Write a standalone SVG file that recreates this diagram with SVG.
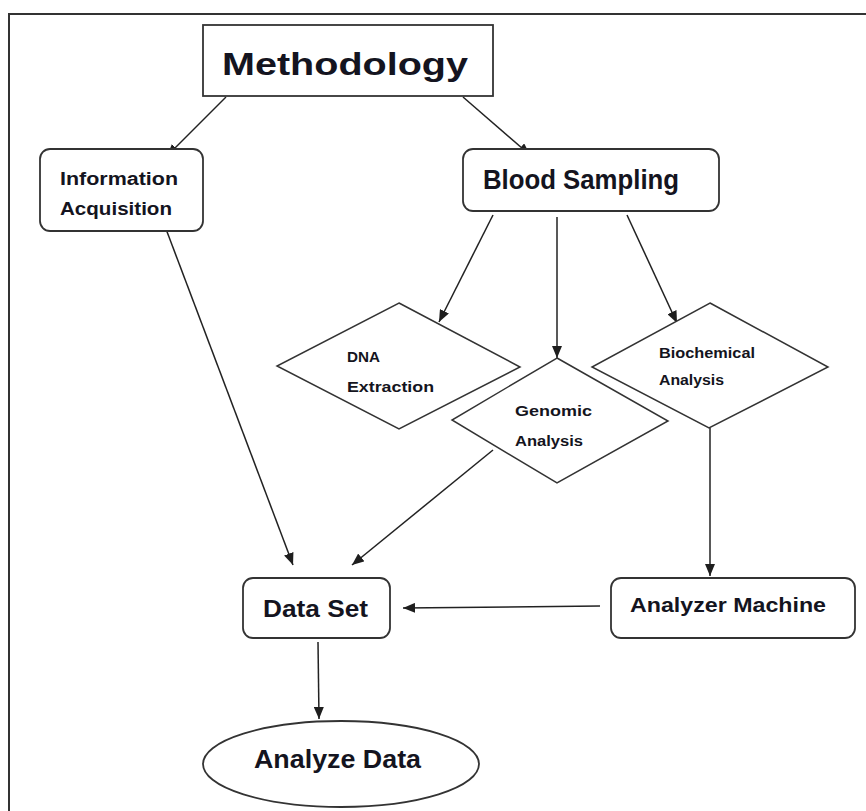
<svg xmlns="http://www.w3.org/2000/svg" width="866" height="811" viewBox="0 0 866 811">
<defs>
<marker id="ah" viewBox="0 0 12 10" refX="12" refY="5" markerWidth="12" markerHeight="10" markerUnits="userSpaceOnUse" orient="auto">
<path d="M0,0 L12,5 L0,10 z" fill="#1e1e1e"/>
</marker>
</defs>
<style>
.frame{fill:none;stroke:#333;stroke-width:2}
.box{fill:#fff;stroke:#333;stroke-width:1.8}
.dia{fill:#fff;stroke:#333;stroke-width:1.5}
.conn line{stroke:#222;stroke-width:1.5;marker-end:url(#ah)}
text{font-family:"Liberation Sans",Arial,sans-serif;font-weight:bold;fill:#141420}
</style>
<rect width="866" height="811" fill="#fff"/>
<path class="frame" d="M9,811 V14 H866"/>
<g class="conn" id="connectors">
<line x1="226" y1="97" x2="167" y2="156"/>
<line x1="463" y1="97" x2="530" y2="155"/>
<line x1="166" y1="229" x2="293" y2="565"/>
<line x1="493" y1="215" x2="439" y2="322"/>
<line x1="557" y1="217" x2="557" y2="358"/>
<line x1="627" y1="215" x2="677" y2="323"/>
<line x1="493" y1="450" x2="352" y2="565"/>
<line x1="710" y1="428" x2="710" y2="576"/>
<line x1="600" y1="606" x2="403" y2="608"/>
<line x1="318" y1="642" x2="319" y2="719"/>
</g>
<g id="methodology">
<rect class="box" x="203" y="25" width="290" height="71"/>
<text x="222" y="75" font-size="31" textLength="246" lengthAdjust="spacingAndGlyphs">Methodology</text>
</g>
<g id="info">
<rect class="box" x="40" y="149" width="163" height="82" rx="10"/>
<text x="60" y="185" font-size="18" textLength="118" lengthAdjust="spacingAndGlyphs">Information</text>
<text x="60" y="215" font-size="18" textLength="112" lengthAdjust="spacingAndGlyphs">Acquisition</text>
</g>
<g id="blood">
<rect class="box" x="463" y="149" width="256" height="62" rx="10"/>
<text x="483" y="189" font-size="28" textLength="196" lengthAdjust="spacingAndGlyphs">Blood Sampling</text>
</g>
<g id="dna">
<polygon class="dia" points="399,303 520,367 399,429 277,366"/>
<text x="347" y="362" font-size="14" textLength="33" lengthAdjust="spacingAndGlyphs">DNA</text>
<text x="347" y="392" font-size="14" textLength="87" lengthAdjust="spacingAndGlyphs">Extraction</text>
</g>
<g id="genomic">
<polygon class="dia" points="557,358 668,421 557,483 452,420"/>
<text x="515" y="416" font-size="14" textLength="77" lengthAdjust="spacingAndGlyphs">Genomic</text>
<text x="515" y="446" font-size="14" textLength="68" lengthAdjust="spacingAndGlyphs">Analysis</text>
</g>
<g id="biochem">
<polygon class="dia" points="710,303 828,367 709,428 592,367"/>
<text x="659" y="358" font-size="14" textLength="96" lengthAdjust="spacingAndGlyphs">Biochemical</text>
<text x="659" y="385" font-size="14" textLength="65" lengthAdjust="spacingAndGlyphs">Analysis</text>
</g>
<g id="dataset">
<rect class="box" x="243" y="578" width="147" height="60" rx="10"/>
<text x="263" y="617" font-size="23" textLength="105" lengthAdjust="spacingAndGlyphs">Data Set</text>
</g>
<g id="analyzer">
<rect class="box" x="611" y="578" width="244" height="60" rx="10"/>
<text x="630" y="612" font-size="21" textLength="196" lengthAdjust="spacingAndGlyphs">Analyzer Machine</text>
</g>
<g id="analyze">
<ellipse class="box" cx="341" cy="764" rx="138" ry="43"/>
<text x="254" y="768" font-size="26" textLength="167" lengthAdjust="spacingAndGlyphs">Analyze Data</text>
</g>
</svg>
